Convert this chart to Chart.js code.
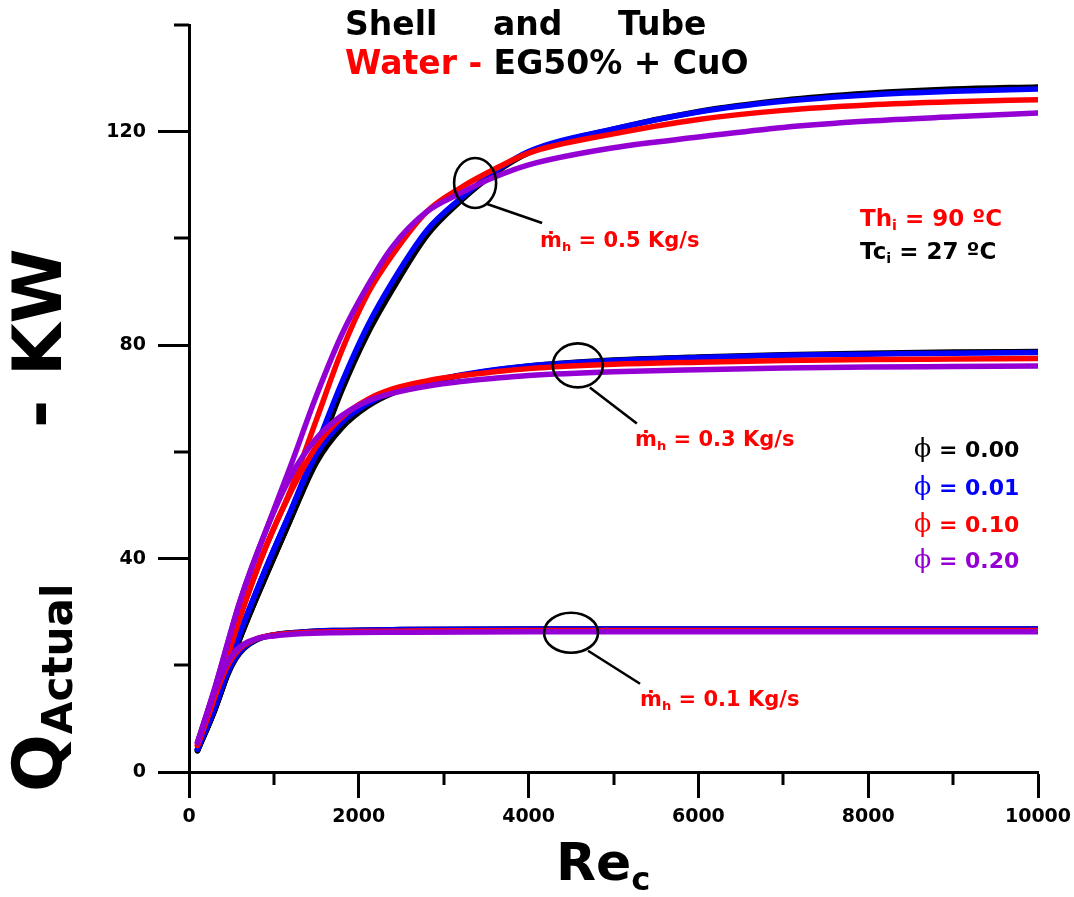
<!DOCTYPE html>
<html>
<head>
<meta charset="utf-8">
<script src="https://cdn.jsdelivr.net/npm/chart.js@4.4.0/dist/chart.umd.min.js"></script>
<style>
  html, body { margin:0; padding:0; background:#fff; }
  #wrap { position:relative; width:1074px; height:897px; overflow:hidden; }
  canvas { position:absolute; left:0; top:0; }
  .t { position:absolute; white-space:pre; line-height:1; font-family:"DejaVu Sans", sans-serif; font-weight:bold; }
  .red { color:#ff0000; }
  .blk { color:#000; }
  .sub { font-size:0.62em; vertical-align:-0.28em; }
  .phi { font-family:"DejaVu Serif", serif; font-weight:normal; font-size:1.15em; }
</style>
</head>
<body>
<div id="wrap">
  <canvas id="c" width="1074" height="897"></canvas>

  <div class="t blk" style="left:345px; top:7px; font-size:33px;">Shell</div>
  <div class="t blk" style="left:493px; top:7px; font-size:33px;">and</div>
  <div class="t blk" style="left:618px; top:7px; font-size:33px;">Tube</div>
  <div class="t blk" style="left:345px; top:46px; font-size:33px;"><span class="red">Water - </span>EG50% + CuO</div>

  <div class="t red" style="left:860px; top:207px; font-size:23px;">Th<span class="sub">i</span> = 90 ºC</div>
  <div class="t blk" style="left:860px; top:240px; font-size:23px;">Tc<span class="sub">i</span> = 27 ºC</div>

  <div class="t" style="left:914px; top:436px; font-size:22px; color:#000;"><span class="phi">ϕ</span> = 0.00</div>
  <div class="t" style="left:914px; top:474px; font-size:22px; color:#0000ff;"><span class="phi">ϕ</span> = 0.01</div>
  <div class="t" style="left:914px; top:511px; font-size:22px; color:#ff0000;"><span class="phi">ϕ</span> = 0.10</div>
  <div class="t" style="left:914px; top:547px; font-size:22px; color:#9400d3;"><span class="phi">ϕ</span> = 0.20</div>

  <div class="t red" style="left:540px; top:230px; font-size:21px;">ṁ<span class="sub">h</span> = 0.5 Kg/s</div>
  <div class="t red" style="left:635px; top:429px; font-size:21px;">ṁ<span class="sub">h</span> = 0.3 Kg/s</div>
  <div class="t red" style="left:640px; top:689px; font-size:21px;">ṁ<span class="sub">h</span> = 0.1 Kg/s</div>

  <div class="t blk" style="left:556px; top:836px; font-size:52px;">Re<span style="font-size:0.62em; vertical-align:-0.3em;">c</span></div>

  <div class="t blk" style="left:4px; top:792px; font-size:68px; transform-origin:0 0; transform:rotate(-90deg);">Q<span style="font-size:0.62em; vertical-align:-0.25em;">Actual</span></div>
  <div class="t blk" style="left:4px; top:428px; font-size:68px; transform-origin:0 0; transform:rotate(-90deg);">- KW</div>
</div>

<script>
// ---------- data ----------
const reMid = [100, 300, 600, 900, 1200, 1500, 1800, 2100, 2400, 2800, 3200, 3600, 4000, 5000, 6000, 7000, 8000, 9000, 10000];
const reLow = [100, 300, 450, 550, 650, 800, 1000, 1300, 1700, 2500, 4000, 6000, 8000, 10000];

// mh = 0.5 kg/s
const q05_phi000 = [4.0, 11.5, 25.0, 36.5, 47.5, 59.0, 71.5, 82.0, 90.5, 100.5, 107.0, 112.2, 116.0, 120.5, 123.8, 125.9, 127.2, 128.0, 128.4];
const q05_phi001 = [4.3, 12.0, 26.0, 38.0, 49.0, 61.0, 73.0, 83.5, 92.0, 101.5, 107.5, 112.5, 116.3, 120.5, 123.7, 125.7, 126.9, 127.6, 128.0];
const q05_phi010 = [5.0, 14.0, 29.0, 42.0, 53.0, 66.0, 79.0, 89.5, 97.0, 105.0, 109.5, 113.0, 116.0, 119.6, 122.3, 124.0, 125.0, 125.6, 126.0];
const q05_phi020 = [5.5, 15.5, 32.0, 45.0, 57.5, 70.5, 82.0, 91.0, 98.5, 105.0, 108.5, 111.5, 113.8, 117.0, 119.0, 120.8, 122.0, 122.8, 123.5];

// mh = 0.3 kg/s
const q03_phi000 = [4.0, 11.5, 25.0, 36.5, 47.5, 58.0, 64.5, 68.5, 71.0, 72.9, 74.3, 75.3, 76.1, 77.2, 77.8, 78.2, 78.5, 78.7, 78.8];
const q03_phi001 = [4.3, 12.0, 26.0, 38.0, 49.0, 59.5, 65.5, 69.0, 71.3, 73.1, 74.4, 75.4, 76.1, 77.1, 77.7, 78.1, 78.3, 78.5, 78.6];
const q03_phi010 = [5.0, 14.0, 29.0, 42.0, 52.5, 61.0, 66.5, 69.8, 71.8, 73.3, 74.3, 75.0, 75.6, 76.4, 76.8, 77.1, 77.3, 77.4, 77.5];
const q03_phi020 = [5.5, 15.5, 32.0, 45.0, 55.5, 62.5, 66.8, 69.5, 71.0, 72.3, 73.2, 73.8, 74.3, 75.0, 75.4, 75.7, 75.9, 76.0, 76.1];

// mh = 0.1 kg/s
const q01_phi000 = [4.0, 11.5, 18.0, 21.2, 23.2, 24.8, 25.7, 26.2, 26.5, 26.7, 26.8, 26.8, 26.8, 26.8];
const q01_phi001 = [4.3, 12.0, 18.5, 21.5, 23.4, 24.9, 25.7, 26.2, 26.5, 26.7, 26.8, 26.8, 26.8, 26.8];
const q01_phi010 = [5.0, 14.0, 19.8, 22.3, 23.8, 25.0, 25.7, 26.1, 26.3, 26.4, 26.5, 26.5, 26.5, 26.5];
const q01_phi020 = [5.5, 15.0, 20.5, 22.7, 24.0, 25.0, 25.5, 25.9, 26.1, 26.2, 26.3, 26.3, 26.3, 26.3];

// tick values
const xMajorTicks = [0, 2000, 4000, 6000, 8000, 10000];
const xMinorTicks = [1000, 3000, 5000, 7000, 9000];
const yMajorTicks = [0, 40, 80, 120];
const yMinorTicks = [20, 60, 100, 140];

// callout ellipse centres (data coordinates)
const calloutRe = [3370, 4580, 4500];
const calloutQ  = [110.4, 76.2, 26.1];

// ---------- build ----------
const colors = { phi000:'#000000', phi001:'#0000ff', phi010:'#ff0000', phi020:'#9400d3' };
const orders = { phi000:4, phi001:3, phi010:2, phi020:1 };
function pts(xs, ys){ return xs.map((x,i)=>({x:x, y:ys[i]})); }
function ds(label, key, xs, ys){
  return { label, data: pts(xs, ys), borderColor: colors[key], backgroundColor: colors[key],
           borderWidth: 5.5, pointRadius: 0, fill:false, cubicInterpolationMode:'monotone',
           order: orders[key], borderCapStyle:'round', borderJoinStyle:'round' };
}
const datasets = [
  ds('0.5 φ=0.00','phi000',reMid,q05_phi000), ds('0.5 φ=0.01','phi001',reMid,q05_phi001),
  ds('0.5 φ=0.10','phi010',reMid,q05_phi010), ds('0.5 φ=0.20','phi020',reMid,q05_phi020),
  ds('0.3 φ=0.00','phi000',reMid,q03_phi000), ds('0.3 φ=0.01','phi001',reMid,q03_phi001),
  ds('0.3 φ=0.10','phi010',reMid,q03_phi010), ds('0.3 φ=0.20','phi020',reMid,q03_phi020),
  ds('0.1 φ=0.00','phi000',reLow,q01_phi000), ds('0.1 φ=0.01','phi001',reLow,q01_phi001),
  ds('0.1 φ=0.10','phi010',reLow,q01_phi010), ds('0.1 φ=0.20','phi020',reLow,q01_phi020)
];

const ellipseStyle = [
  { rx:21, ry:25, from:[12,21], to:[67,40] },
  { rx:25, ry:22, from:[12,22], to:[59,58] },
  { rx:27, ry:20, from:[17,18], to:[69,51] }
];

const extras = {
  id:'extras',
  afterDraw(chart){
    const c = chart.ctx, xs = chart.scales.x, ys = chart.scales.y, a = chart.chartArea;
    c.save();
    c.strokeStyle = '#000'; c.lineWidth = 3; c.lineCap = 'butt';
    xMinorTicks.forEach(v => { const px = Math.round(xs.getPixelForValue(v));
      c.beginPath(); c.moveTo(px, a.bottom); c.lineTo(px, a.bottom + 13); c.stroke(); });
    yMinorTicks.forEach(v => { const py = Math.round(ys.getPixelForValue(v));
      c.beginPath(); c.moveTo(a.left, py); c.lineTo(a.left - 15, py); c.stroke(); });
    // callouts
    c.lineWidth = 2.6;
    calloutRe.forEach((re, i) => {
      const cx = xs.getPixelForValue(re), cy = ys.getPixelForValue(calloutQ[i]), s = ellipseStyle[i];
      c.beginPath(); c.ellipse(cx, cy, s.rx, s.ry, 0, 0, Math.PI*2); c.stroke();
      c.beginPath(); c.moveTo(cx + s.from[0], cy + s.from[1]); c.lineTo(cx + s.to[0], cy + s.to[1]); c.stroke();
    });
    c.restore();
  }
};

const tickFont = { family:'DejaVu Sans', weight:'bold', size:19 };

new Chart(document.getElementById('c'), {
  type:'line',
  data:{ datasets },
  options:{
    responsive:false, animation:false, devicePixelRatio:1,
    layout:{ padding:{ top:25, right:36, left:0, bottom:0 } },
    plugins:{ legend:{display:false}, tooltip:{enabled:false} },
    scales:{
      x:{ type:'linear', min:0, max:10000,
          afterFit(s){ s.height = 125; s.paddingLeft = 0; s.paddingRight = 0; },
          border:{ display:true, color:'#000', width:3 },
          grid:{ drawOnChartArea:false, drawTicks:true, tickLength:26, tickWidth:3,
                 tickColor: ctx => xMajorTicks.includes(ctx.tick.value) ? '#000' : 'rgba(0,0,0,0)' },
          ticks:{ stepSize:1000, autoSkip:false, maxRotation:0, color:'#000', font:tickFont, padding:8,
                  callback: v => xMajorTicks.includes(v) ? String(v) : '' } },
      y:{ type:'linear', min:0, max:140,
          afterFit(s){ s.width = 189; s.paddingTop = 0; s.paddingBottom = 0; },
          border:{ display:true, color:'#000', width:3 },
          grid:{ drawOnChartArea:false, drawTicks:true, tickLength:31, tickWidth:3,
                 tickColor: ctx => yMajorTicks.includes(ctx.tick.value) ? '#000' : 'rgba(0,0,0,0)' },
          ticks:{ stepSize:20, autoSkip:false, color:'#000', font:tickFont, padding:12,
                  callback: v => yMajorTicks.includes(v) ? String(v) : '' } }
    }
  },
  plugins:[extras]
});
</script>
</body>
</html>
